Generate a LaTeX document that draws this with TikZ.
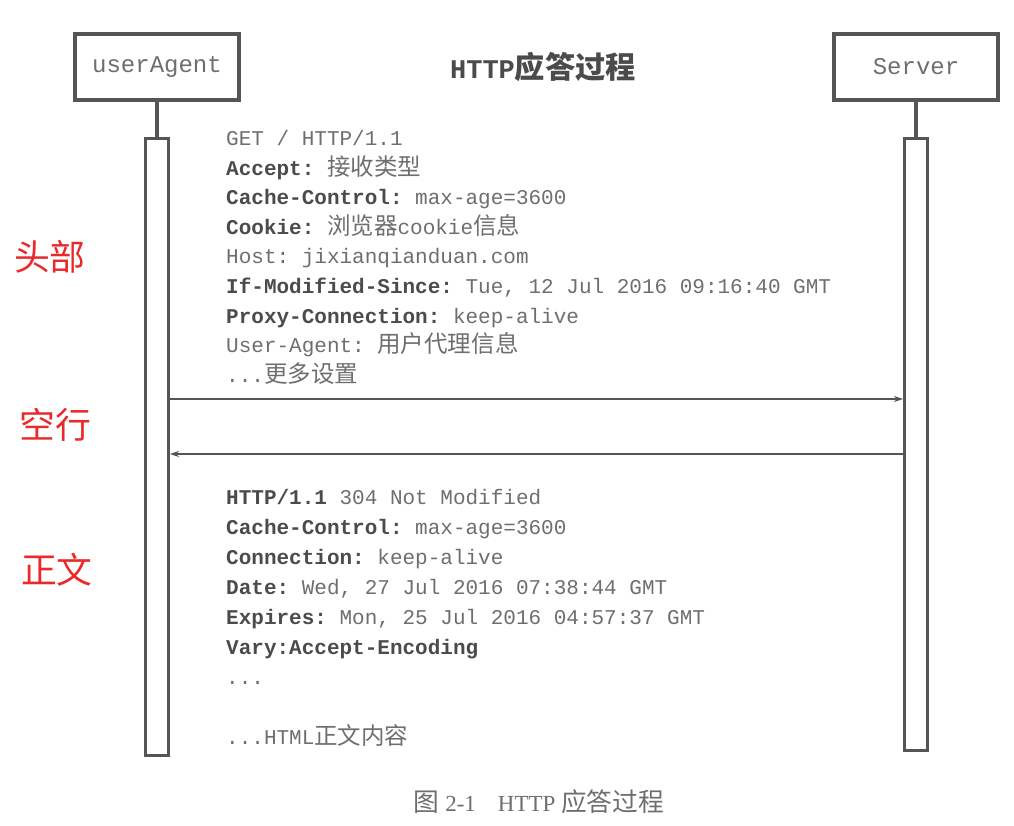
\documentclass[tikz,border=0pt]{standalone}
\usepackage{fontspec}
\setmainfont{Liberation Serif}
\setmonofont{Liberation Mono}
\newfontfamily\cjk[Scale=1.12]{Noto Sans CJK SC}
\usepackage{xcolor}
\usetikzlibrary{positioning, arrows.meta}
\definecolor{httpGray}{RGB}{85, 85, 85}
\definecolor{httpText}{RGB}{110, 110, 110}
\definecolor{httpKey}{RGB}{75, 75, 75}
\definecolor{httpRed}{RGB}{234, 42, 42}
\newcommand{\zh}[1]{{\cjk #1}}
\newcommand{\hkey}[1]{{\color{httpKey}\bfseries #1}}
\newcommand{\more}{...}

\begin{document}
\begin{tikzpicture}[
                x=1pt, y=-1pt,
                node distance=36pt,
                actor/.style={rectangle, draw=httpGray, line width=4pt, minimum width=164pt, minimum height=66pt, inner sep=0pt, text=httpText, font=\ttfamily\fontsize{24}{24}\selectfont},
                lifeline/.style={rectangle, draw=httpGray, line width=3pt, minimum width=23pt, inner sep=0pt},
                stem/.style={draw=httpGray, line width=4pt},
                msg/.style={anchor=base west, inner sep=0pt, text=httpText, font=\ttfamily\fontsize{21}{30}\selectfont},
                arrow/.style={-{Stealth[length=9pt, width=6pt]}, draw=httpGray, line width=1.3pt},
                part/.style={text=httpRed, font=\cjk\fontsize{32}{32}\selectfont}
            ]
                \useasboundingbox (0,0) rectangle (1014,826);

                % --- ACTORS ---
                \node[actor] (agent) at (157,67) {userAgent};
                \node[actor] (server) at (916,67) {Server};
                \node[text=httpKey, font=\ttfamily\bfseries\fontsize{27}{27}\selectfont] (title) at (543,67) {HTTP\zh{应答过程}};

                % --- LIFELINES ---
                \node[lifeline, minimum height=617pt, below=35pt of agent] (agentLine) {};
                \node[lifeline, minimum height=612pt, below=35pt of server] (serverLine) {};
                \draw[stem] (agent.south) -- (agentLine.north);
                \draw[stem] (server.south) -- (serverLine.north);

                % --- REQUEST HEADERS ---
                \foreach \txt [count=\i] in {
                    {GET / HTTP/1.1},
                    {\hkey{Accept:} \zh{接收类型}},
                    {\hkey{Cache-Control:} max-age=3600},
                    {\hkey{Cookie:} \zh{浏览器}cookie\zh{信息}},
                    {Host: jixianqianduan.com},
                    {\hkey{If-Modified-Since:} Tue, 12 Jul 2016 09:16:40 GMT},
                    {\hkey{Proxy-Connection:} keep-alive},
                    {User-Agent: \zh{用户代理信息}},
                    {\more\zh{更多设置}}}
                    \node[msg] (req\i) at (226,{146+29.5*(\i-1)}) {\txt};

                % --- MESSAGES ---
                \coordinate (reqY) at (0,399);
                \coordinate (respY) at (0,454);
                \draw[arrow] (agentLine.east |- reqY) -- (serverLine.west |- reqY);
                \draw[arrow] (serverLine.west |- respY) -- (agentLine.east |- respY);

                % --- RESPONSE ---
                \foreach \txt [count=\i] in {
                    {\hkey{HTTP/1.1} 304 Not Modified},
                    {\hkey{Cache-Control:} max-age=3600},
                    {\hkey{Connection:} keep-alive},
                    {\hkey{Date:} Wed, 27 Jul 2016 07:38:44 GMT},
                    {\hkey{Expires:} Mon, 25 Jul 2016 04:57:37 GMT},
                    {\hkey{Vary:Accept-Encoding}},
                    {\more}}
                    \node[msg] (resp\i) at (226,{504+30*(\i-1)}) {\txt};
                \node[msg] (respBody) at (226,744) {\more HTML\zh{正文内容}};

                % --- PARTS ---
                \node[part] (head) at (50,257) {头部};
                \node[part] (blank) at (55,425) {空行};
                \node[part] (body) at (57,570) {正文};

                % Caption
                \node[text=httpText, font=\fontsize{23}{23}\selectfont] (caption) at (539,802) {\zh{图} 2-1\hspace{22pt}HTTP \zh{应答过程}};

\end{tikzpicture}
\end{document}
